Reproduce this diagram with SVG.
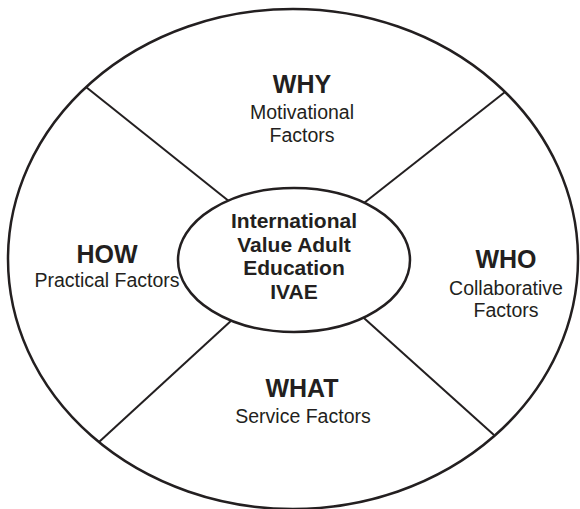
<svg xmlns="http://www.w3.org/2000/svg" width="580" height="509" viewBox="0 0 580 509">
  <style>
    .ring { fill: #ffffff; stroke: #231f20; stroke-width: 2.5; }
    .hub { fill: #ffffff; stroke: #231f20; stroke-width: 2.5; }
    .spoke { stroke: #231f20; stroke-width: 2; fill: none; }
    .head { font-family: "Liberation Sans", Arial, sans-serif; font-weight: bold; font-size: 25px; fill: #231f20; text-anchor: middle; }
    .sub { font-family: "Liberation Sans", Arial, sans-serif; font-size: 19.5px; fill: #231f20; text-anchor: middle; }
    .core { font-family: "Liberation Sans", Arial, sans-serif; font-weight: bold; font-size: 21px; fill: #231f20; text-anchor: middle; }
  </style>
  <rect width="580" height="509" fill="#ffffff"/>

  <!-- outer wheel -->
  <g id="wheel">
    <ellipse class="ring" cx="293" cy="259" rx="285" ry="250"/>
  </g>

  <!-- spokes dividing the wheel into four quadrants -->
  <g id="connectors">
    <line class="spoke" x1="86" y1="87" x2="240" y2="210"/>
    <line class="spoke" x1="505" y1="92" x2="350" y2="214"/>
    <line class="spoke" x1="99" y1="442" x2="245" y2="308"/>
    <line class="spoke" x1="494" y1="435" x2="345" y2="301"/>
  </g>

  <g id="why">
    <text class="head" x="302" y="93">WHY</text>
    <text class="sub" x="302" y="119">Motivational</text>
    <text class="sub" x="302" y="142">Factors</text>
  </g>

  <g id="how">
    <text class="head" x="107" y="263">HOW</text>
    <text class="sub" x="107" y="287">Practical Factors</text>
  </g>

  <g id="who">
    <text class="head" x="506" y="268">WHO</text>
    <text class="sub" x="506" y="295">Collaborative</text>
    <text class="sub" x="506" y="317">Factors</text>
  </g>

  <g id="what">
    <text class="head" x="302" y="397">WHAT</text>
    <text class="sub" x="303" y="423">Service Factors</text>
  </g>

  <g id="ivae">
    <ellipse class="hub" cx="294" cy="260" rx="116" ry="72"/>
    <text class="core" x="294" y="228">International</text>
    <text class="core" x="294" y="252">Value Adult</text>
    <text class="core" x="294" y="275">Education</text>
    <text class="core" x="294" y="299">IVAE</text>
  </g>
</svg>
